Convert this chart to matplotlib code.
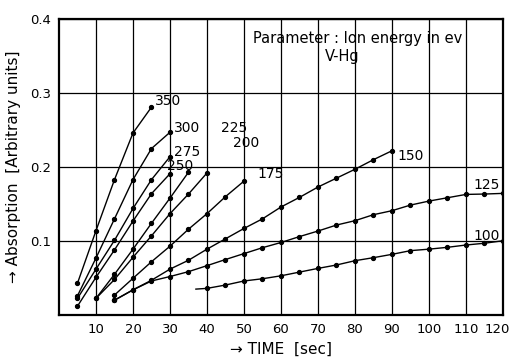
import numpy as np
import matplotlib.pyplot as plt
from matplotlib.transforms import ScaledTranslation

# Absorption vs time for different ion energies (eV), V-Hg
t_350 = [5, 10, 15, 20, 25]
a_350 = [0.043, 0.114, 0.183, 0.246, 0.281]

t_300 = [5, 10, 15, 20, 25, 30]
a_300 = [0.026, 0.077, 0.130, 0.183, 0.225, 0.247]

t_275 = [5, 10, 15, 20, 25, 30]
a_275 = [0.0225, 0.062, 0.101, 0.144, 0.183, 0.214]

t_250 = [5, 10, 15, 20, 25, 30]
a_250 = [0.012, 0.051, 0.088, 0.127, 0.164, 0.191]

t_225 = [10, 15, 20, 25, 30, 35]
a_225 = [0.0225, 0.055, 0.089, 0.124, 0.158, 0.193]

t_200 = [10, 15, 20, 25, 30, 35, 40]
a_200 = [0.0225, 0.048, 0.078, 0.107, 0.137, 0.1635, 0.192]

t_175 = [15, 20, 25, 30, 35, 40, 45, 50]
a_175 = [0.027, 0.0496, 0.072, 0.093, 0.116, 0.137, 0.160, 0.181]

t_150 = [15, 20, 25, 30, 35, 40, 45, 50, 55, 60, 65, 70, 75, 80, 85, 90]
a_150 = [0.020, 0.034, 0.047, 0.062, 0.074, 0.089, 0.103, 0.117, 0.130,
         0.146, 0.159, 0.173, 0.185, 0.197, 0.210, 0.222]

t_125 = [15, 20, 25, 30, 35, 40, 45, 50, 55, 60, 65, 70, 75, 80, 85, 90,
         95, 100, 105, 110, 115, 120]
a_125 = [0.020, 0.034, 0.046, 0.052, 0.0586, 0.0667, 0.075, 0.083, 0.091,
         0.098, 0.106, 0.1135, 0.1216, 0.1275, 0.1356, 0.141, 0.1486, 0.154,
         0.1585, 0.163, 0.1635, 0.1644]

# first entry is where the drawn line begins (no measured point there)
t_100 = [37, 40, 45, 50, 55, 60, 65, 70, 75, 80, 85, 90, 95, 100, 105, 110,
         115, 120]
a_100 = [0.035, 0.036, 0.0405, 0.046, 0.0490, 0.053, 0.058, 0.063, 0.0676,
         0.0734, 0.0775, 0.082, 0.087, 0.089, 0.0915, 0.0946, 0.097, 0.1004]

curves = [
    (t_350, a_350, '350', 26.0, 0.289),
    (t_300, a_300, '300', 31.0, 0.253),
    (t_275, a_275, '275', 31.0, 0.220),
    (t_250, a_250, '250', 29.3, 0.201),
    (t_225, a_225, '225', 43.8, 0.253),
    (t_200, a_200, '200', 47.0, 0.233),
    (t_175, a_175, '175', 53.5, 0.190),
    (t_150, a_150, '150', 91.5, 0.215),
    (t_125, a_125, '125', 112.0, 0.176),
    (t_100, a_100, '100', 112.0, 0.107),
]

x_ticks = [10, 20, 30, 40, 50, 60, 70, 80, 90, 100, 110, 120]
y_ticks = [0.1, 0.2, 0.3, 0.4]

fig = plt.figure(figsize=(5.13, 3.6), dpi=100)
ax = fig.add_axes([0.115, 0.125, 0.8655, 0.822])

for t, a, lab, lx, ly in curves:
    marks = list(range(1, len(t))) if lab == '100' else None
    ax.plot(t, a, color='black', linewidth=1.0, marker='o', markersize=2.8,
            markevery=marks)
    ax.text(lx, ly, lab, fontsize=10, va='center', ha='left', color='black')

ax.set_xlim(0, 120)
ax.set_ylim(0, 0.4)
ax.set_xticks(x_ticks)
ax.set_yticks(y_ticks)
ax.set_xticklabels([str(v) for v in x_ticks])
ax.set_yticklabels([f'{v:.1f}' for v in y_ticks])
ax.tick_params(length=0, labelsize=9.5, pad=6)
ax.grid(True, color='black', linewidth=0.9)
ax.set_axisbelow(True)
for s in ax.spines.values():
    s.set_linewidth(1.6)

# keep the last x label inside the figure
last = ax.get_xticklabels()[-1]
last.set_transform(last.get_transform() +
                   ScaledTranslation(-4 / 72, 0, fig.dpi_scale_trans))

ax.text(52.5, 0.374, 'Parameter : Ion energy in ev', fontsize=10.5,
        va='center', ha='left')
ax.text(76.5, 0.350, 'V-Hg', fontsize=10.5, va='center', ha='center')

ax.set_xlabel('→ TIME  [sec]', fontsize=11, labelpad=4)
ax.set_ylabel('→ Absorption  [Arbitrary units]', fontsize=11, labelpad=6)

plt.savefig('out.png', dpi=100)
plt.close()
